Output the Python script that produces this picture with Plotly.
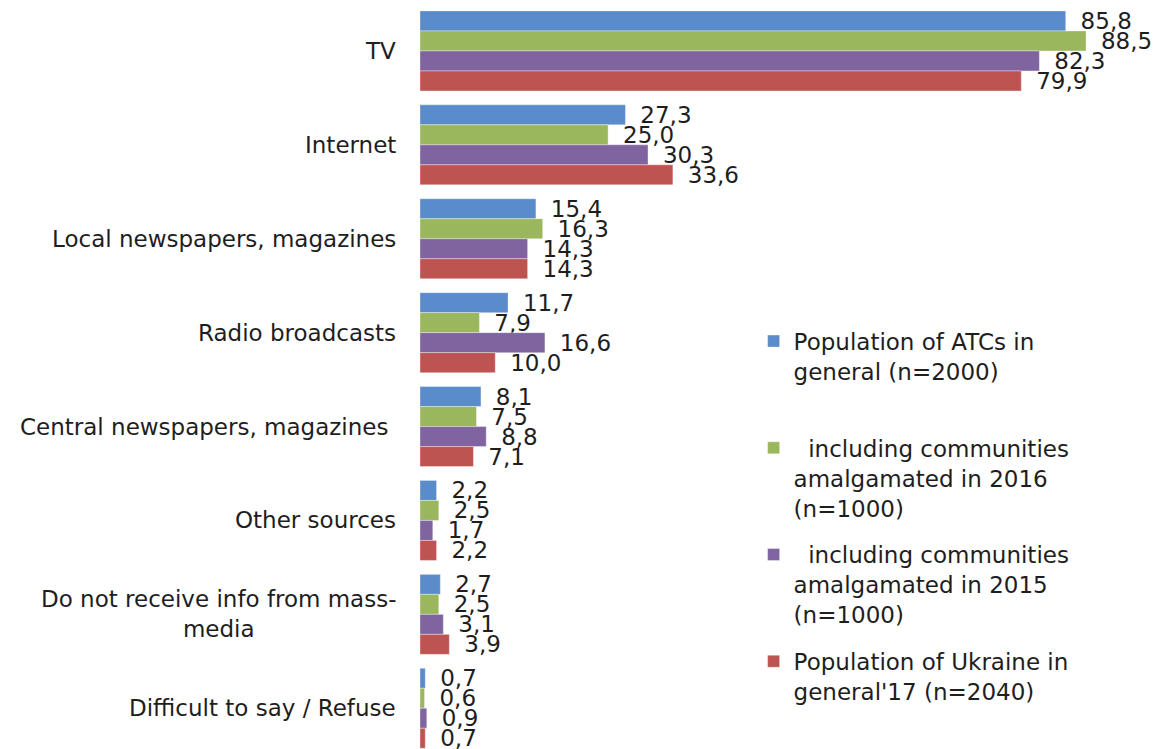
import plotly.graph_objects as go

categories = [
    "TV",
    "Internet",
    "Local newspapers, magazines",
    "Radio broadcasts",
    "Central newspapers, magazines",
    "Other sources",
    "Do not receive info from mass-",
    "Difficult to say / Refuse",
]
category_labels = [
    "TV",
    "Internet",
    "Local newspapers, magazines",
    "Radio broadcasts",
    "Central newspapers, magazines\u00a0",
    "Other sources",
    "Do not receive info from mass-<br>media",
    "Difficult to say / Refuse",
]

series_names = [
    "Population of ATCs in<br>general (n=2000)<br> ",
    "  including communities<br>amalgamated in 2016<br>(n=1000)",
    "  including communities<br>amalgamated in 2015<br>(n=1000)",
    "Population of Ukraine in<br>general'17 (n=2040)",
]
atc_general = [85.8, 27.3, 15.4, 11.7, 8.1, 2.2, 2.7, 0.7]
amalg_2016 = [88.5, 25.0, 16.3, 7.9, 7.5, 2.5, 2.5, 0.6]
amalg_2015 = [82.3, 30.3, 14.3, 16.6, 8.8, 1.7, 3.1, 0.9]
ukraine_2017 = [79.9, 33.6, 14.3, 10.0, 7.1, 2.2, 3.9, 0.7]

series_values = [atc_general, amalg_2016, amalg_2015, ukraine_2017]
colors = ["#5A8BCA", "#9BB75E", "#7F64A0", "#BE5451"]

FONT = "DejaVu Sans"
TXT = "#1e1e1e"

fig = go.Figure()
for i, (name, vals, col) in enumerate(zip(series_names, series_values, colors)):
    fig.add_trace(go.Bar(
        y=categories,
        x=vals,
        name=name,
        legendgroup=f"g{i}",
        orientation="h",
        marker=dict(color=col, line=dict(color="rgba(255,255,255,0.6)", width=0.6)),
        text=["\u00a0\u2009" + f"{v:.1f}".replace(".", ",") for v in vals],
        textposition="outside",
        cliponaxis=False,
        constraintext="none",
        textfont=dict(family=FONT, size=23, color=TXT),
    ))

for cat, lab in zip(categories, category_labels):
    fig.add_annotation(
        x=0, xref="paper", y=cat, yref="y",
        text=lab, showarrow=False,
        xanchor="right", yanchor="middle", align="center",
        xshift=-22,
        font=dict(family=FONT, size=23, color=TXT),
    )

fig.update_layout(
    width=1160, height=749,
    margin=dict(l=420, r=10, t=4, b=0),
    barmode="group",
    bargap=0.148,
    bargroupgap=0,
    plot_bgcolor="white",
    paper_bgcolor="white",
    font=dict(family=FONT, size=23, color=TXT),
    showlegend=True,
    legend=dict(
        x=0.457, xanchor="left",
        y=0.5763, yanchor="top",
        font=dict(family=FONT, size=23, color=TXT),
        valign="top",
        bgcolor="rgba(0,0,0,0)",
        tracegroupgap=14,
    ),
    xaxis=dict(range=[0, 97], visible=False, showgrid=False, zeroline=False),
    yaxis=dict(
        range=[7.434, -0.5],
        showticklabels=False,
        showgrid=False, zeroline=False, showline=False, ticks="",
        type="category",
    ),
)

fig.write_html(
    "out.html",
    config={"displayModeBar": False},
    post_script="document.body.style.margin='0';",
)
